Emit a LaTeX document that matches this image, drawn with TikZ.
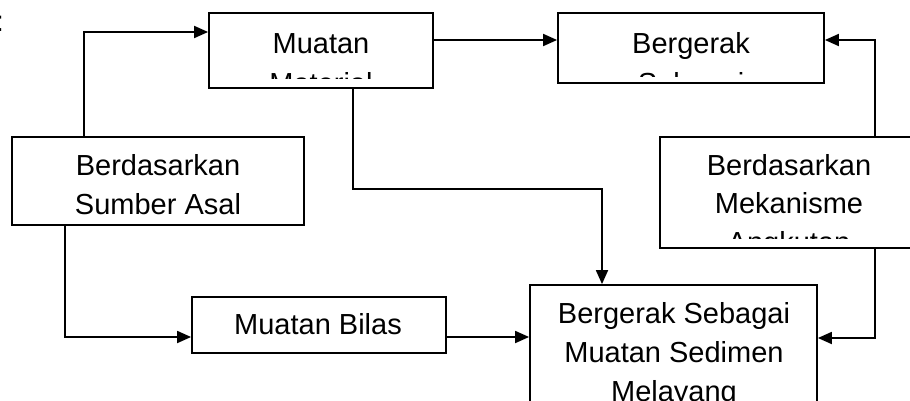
\documentclass[tikz,border=0pt]{standalone}
\usepackage{fontspec}
\setmainfont{Liberation Sans}
\usetikzlibrary{arrows.meta}
\begin{document}
\begin{tikzpicture}[x=1pt,y=1pt,
  box/.style={draw, line width=1.8pt, rectangle, inner sep=0pt},
  txt/.style={anchor=base, inner sep=0pt, font=\fontsize{29}{35}\selectfont},
  arr/.style={line width=1.8pt, -{Triangle[length=14pt,width=12pt]}}]
\useasboundingbox (0,0) rectangle (910,400);
\begin{scope}
\clip (0,0) rectangle (910,400);
\node[txt, anchor=base west] (colon) at (-4.4,368) {:};
% boxes
\node[box, minimum width=224pt, minimum height=75pt] (A) at (321,349.5) {};
\node[box, minimum width=266pt, minimum height=70pt] (B) at (691,352) {};
\node[box, minimum width=292pt, minimum height=88pt] (C) at (158,219) {};
\node[box, minimum width=258pt, minimum height=111pt] (D) at (789,207.5) {};
\node[box, minimum width=254pt, minimum height=56pt] (E) at (319,75) {};
\node[box, minimum width=287pt, minimum height=155pt] (F) at (673.5,37.5) {};
% texts
\begin{scope}
\clip (209,322) rectangle (433,387);
\node[txt] (A1) at (321,347) {Muatan};
\node[txt] (A2) at (321,307) {Material};
\end{scope}
\begin{scope}
\clip (558,324) rectangle (824,387);
\node[txt] (B1) at (691,347) {Bergerak};
\node[txt] (B2) at (691,307) {Sebagai};
\end{scope}
\node[txt] (C1) at (158,225) {Berdasarkan};
\node[txt] (C2) at (158,186) {Sumber Asal};
\begin{scope}
\clip (660,162) rectangle (918,263);
\node[txt] (D1) at (789,225) {Berdasarkan};
\node[txt] (D2) at (789,187) {Mekanisme};
\node[txt] (D3) at (789,148) {Angkutan};
\end{scope}
\node[txt] (E1) at (318,66) {Muatan Bilas};
\node[txt] (F1) at (674,77) {Bergerak Sebagai};
\node[txt] (F2) at (674,38) {Muatan Sedimen};
\node[txt] (F3) at (674,-1) {Melayang};
% connectors
\coordinate (c1) at (84,368);
\coordinate (c2) at (0,360);
\coordinate (c3a) at (353,211);
\coordinate (c3b) at (602,211);
\coordinate (c4) at (875,360);
\coordinate (c5) at (65,63);
\coordinate (c7) at (875,62);
\draw[arr] (C.north -| c1) -- (c1) -- (A.west |- c1);
\draw[arr] (A.east |- c2) -- (B.west |- c2);
\draw[arr] (A.south -| c3a) -- (c3a) -- (c3b) -- (F.north -| c3b);
\draw[arr] (D.north -| c4) -- (c4) -- (B.east |- c4);
\draw[arr] (C.south -| c5) -- (c5) -- (E.west |- c5);
\draw[arr] (E.east |- c5) -- (F.west |- c5);
\draw[arr] (D.south -| c7) -- (c7) -- (F.east |- c7);
\end{scope}
\end{tikzpicture}
\end{document}
